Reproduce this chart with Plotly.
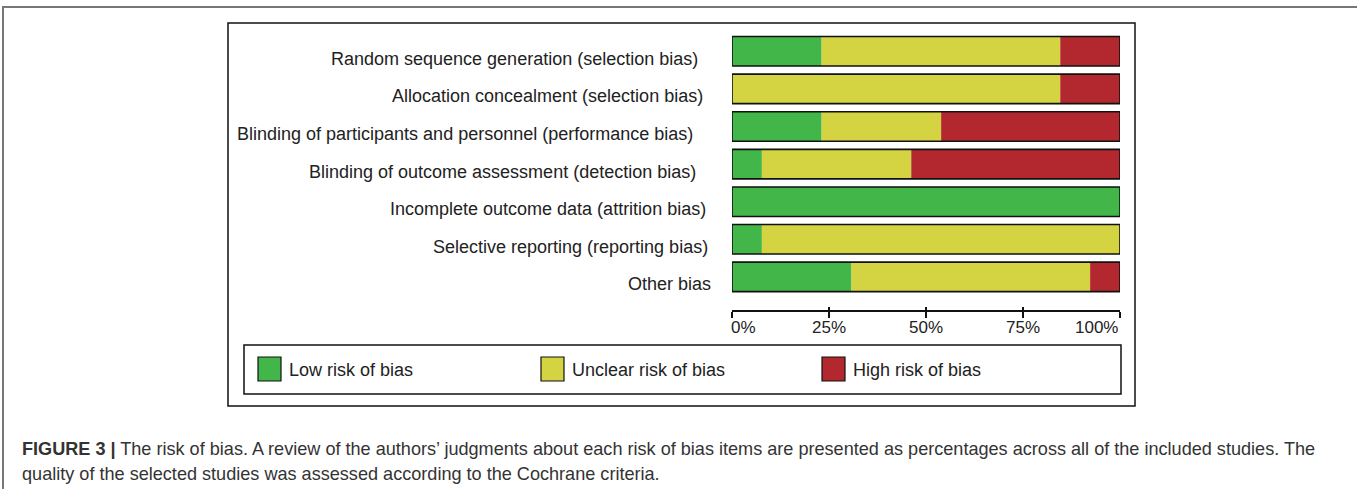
import plotly.graph_objects as go

W, H = 1357, 489

domains = [
    "Random sequence generation (selection bias)",
    "Allocation concealment (selection bias)",
    "Blinding of participants and personnel (performance bias)",
    "Blinding of outcome assessment (detection bias)",
    "Incomplete outcome data (attrition bias)",
    "Selective reporting (reporting bias)",
    "Other bias",
]
low_risk = [23.1, 0.0, 23.1, 7.7, 100.0, 7.7, 30.8]
unclear_risk = [61.5, 84.6, 30.8, 38.5, 0.0, 92.3, 61.5]
high_risk = [15.4, 15.4, 46.1, 53.8, 0.0, 0.0, 7.7]

series_names = ["Low risk of bias", "Unclear risk of bias", "High risk of bias"]
series_values = [low_risk, unclear_risk, high_risk]
series_colors = ["#43b649", "#d4d342", "#b2282e"]

tick_vals = [0, 25, 50, 75, 100]
tick_text = ["0%", "25%", "50%", "75%", "100%"]

# right edge (px) of each row label, as in the original figure
label_right_px = [700, 705, 695, 698, 708, 710, 713]

FONT = "Liberation Sans, Arial, sans-serif"


def px(x):
    return x / W


def py(y):
    return 1 - y / H


fig = go.Figure()

bases = [0.0] * len(domains)
for name, vals, col in zip(series_names, series_values, series_colors):
    fig.add_trace(go.Bar(
        y=domains, x=vals, base=list(bases), orientation="h", name=name,
        marker=dict(color=col, line=dict(width=0)), showlegend=False,
        hoverinfo="name+x",
    ))
    bases = [b + v for b, v in zip(bases, vals)]

# outline around each whole bar
fig.add_trace(go.Bar(
    y=domains, x=bases, base=[0] * len(domains), orientation="h",
    marker=dict(color="rgba(0,0,0,0)", line=dict(color="#111", width=1.6)),
    showlegend=False, hoverinfo="skip",
))

# dummy trace for overlay axis (upward part of the ticks)
fig.add_trace(go.Scatter(x=[0, 100], y=[domains[0], domains[0]], xaxis="x2",
                         mode="markers", marker=dict(opacity=0), showlegend=False,
                         hoverinfo="skip"))

fig.update_layout(
    width=W, height=H, margin=dict(l=0, r=0, t=0, b=0),
    paper_bgcolor="white", plot_bgcolor="white",
    barmode="overlay", bargap=0.215,
    font=dict(family=FONT, color="#222"),
    xaxis=dict(domain=[px(732), px(1120)], range=[0, 100], showgrid=False,
               zeroline=False, showline=True, linecolor="#111", linewidth=1.5,
               ticks="outside", ticklen=6, tickwidth=1.5, tickcolor="#111",
               tickvals=tick_vals, showticklabels=False, anchor="y"),
    xaxis2=dict(domain=[px(732), px(1120)], range=[0, 100], overlaying="x",
                anchor="y", side="bottom", showgrid=False, zeroline=False,
                showline=False, ticks="inside", ticklen=3, tickwidth=1.5,
                tickcolor="#111", tickvals=tick_vals, showticklabels=False),
    yaxis=dict(domain=[py(310), py(32.5)], range=[6.88, -0.5], showgrid=False,
               zeroline=False, showline=False, ticks="", showticklabels=False,
               categoryorder="array", categoryarray=domains),
)

annotations = []
# row labels
for d, rx in zip(domains, label_right_px):
    annotations.append(dict(x=px(rx), y=d, xref="paper", yref="y", text=d,
                            showarrow=False, xanchor="right", yanchor="middle",
                            yshift=-7.5,
                            font=dict(size=18, color="#222", family=FONT)))

anchors = ["left", "center", "center", "center", "right"]
shifts = [-3, 0, 0, 0, 0]
for v, t, a, s in zip(tick_vals, tick_text, anchors, shifts):
    annotations.append(dict(x=v, y=py(327), xref="x", yref="paper", text=t,
                            showarrow=False, xanchor=a, yanchor="middle", xshift=s,
                            font=dict(size=17, color="#222", family=FONT)))

shapes = []
# outer figure frame
shapes.append(dict(type="rect", xref="paper", yref="paper", x0=px(3), x1=px(1362),
                   y0=py(7), y1=py(520), line=dict(color="#777", width=2)))
# inner chart box
shapes.append(dict(type="rect", xref="paper", yref="paper", x0=px(228), x1=px(1135),
                   y0=py(23), y1=py(406), line=dict(color="#111", width=1.5)))
# legend box
shapes.append(dict(type="rect", xref="paper", yref="paper", x0=px(244), x1=px(1121),
                   y0=py(345), y1=py(394), line=dict(color="#111", width=1.5)))

legend_x = [258, 541, 822]
for lx, name, col in zip(legend_x, series_names, series_colors):
    shapes.append(dict(type="rect", xref="paper", yref="paper", x0=px(lx), x1=px(lx + 23),
                       y0=py(357), y1=py(381), fillcolor=col,
                       line=dict(color="#111", width=1.2)))
    annotations.append(dict(x=px(lx + 29), y=py(370), xref="paper", yref="paper",
                            text=name, showarrow=False, xanchor="left", yanchor="middle",
                            font=dict(size=18, color="#222", family=FONT)))

caption1 = ("<b>FIGURE 3 |</b> The risk of bias. A review of the authors’ judgments about each "
            "risk of bias items are presented as percentages across all of the included studies. The")
caption2 = "quality of the selected studies was assessed according to the Cochrane criteria."
annotations.append(dict(x=px(20), y=py(449), xref="paper", yref="paper", text=caption1,
                        showarrow=False, xanchor="left", yanchor="middle",
                        font=dict(size=18.1, color="#333", family=FONT)))
annotations.append(dict(x=px(20), y=py(474), xref="paper", yref="paper", text=caption2,
                        showarrow=False, xanchor="left", yanchor="middle",
                        font=dict(size=18.1, color="#333", family=FONT)))

fig.update_layout(annotations=annotations, shapes=shapes)
fig.write_html("out.html", config={"displayModeBar": False},
               post_script="document.body.style.margin='0px';document.body.style.overflow='hidden';")
